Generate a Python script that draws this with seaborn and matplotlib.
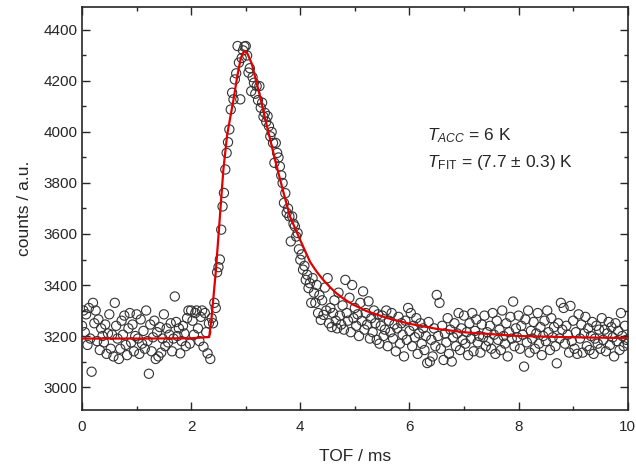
import numpy as np
import pandas as pd
import seaborn as sns
import matplotlib
matplotlib.use("Agg")
import matplotlib.pyplot as plt
from matplotlib.ticker import MultipleLocator

# time-of-flight grid step (ms), counts per bin
tof_step = 0.025
counts = [
    3240, 3300, 3215, 3285, 3165, 3310, 3190, 3060, 3330, 3250, 3300, 3180, 3265, 3145, 3230, 3200, 3175, 3245, 3130, 3210,
    3285, 3150, 3205, 3120, 3330, 3240, 3190, 3110, 3150, 3260, 3205, 3280, 3165, 3125, 3230, 3290, 3175, 3245, 3140, 3200,
    3285, 3190, 3130, 3265, 3170, 3220, 3150, 3300, 3180, 3052, 3245, 3140, 3195, 3260, 3110, 3215, 3120, 3235, 3135, 3190,
    3285, 3160, 3230, 3175, 3205, 3250, 3140, 3190, 3355, 3255, 3200, 3230, 3132, 3180, 3240, 3210, 3160, 3270, 3300, 3170,
    3300, 3260, 3205, 3290, 3300, 3230, 3180, 3275, 3300, 3158, 3290, 3215, 3132, 3250, 3110, 3270, 3250, 3330, 3310, 3450,
    3470, 3500, 3617, 3708, 3761, 3853, 3918, 3960, 4010, 4088, 4154, 4128, 4206, 4230, 4337, 4272, 4128, 4290, 4320, 4335,
    4337, 4300, 4233, 4250, 4160, 4215, 4193, 4150, 4180, 4125, 4180, 4095, 4115, 4060, 4075, 4040, 4062, 4023, 3983, 4000,
    3957, 3879, 3957, 3918, 3900, 3865, 3830, 3800, 3722, 3760, 3683, 3700, 3669, 3571, 3669, 3640, 3630, 3590, 3604, 3540,
    3499, 3520, 3460, 3475, 3420, 3440, 3388, 3407, 3330, 3427, 3370, 3330, 3400, 3290, 3360, 3263, 3340, 3283, 3390, 3300,
    3427, 3250, 3310, 3235, 3290, 3340, 3260, 3230, 3370, 3280, 3245, 3320, 3225, 3420, 3290, 3260, 3350, 3215, 3400, 3270,
    3310, 3240, 3285, 3200, 3330, 3260, 3375, 3225, 3290, 3245, 3336, 3190, 3270, 3215, 3300, 3250, 3185, 3285, 3170, 3240,
    3280, 3200, 3225, 3300, 3160, 3260, 3215, 3290, 3190, 3245, 3140, 3230, 3275, 3170, 3250, 3205, 3120, 3260, 3185, 3310,
    3220, 3290, 3160, 3240, 3195, 3270, 3130, 3210, 3250, 3170, 3230, 3145, 3200, 3094, 3255, 3100, 3185, 3120, 3230, 3160,
    3361, 3200, 3330, 3150, 3240, 3106, 3210, 3175, 3270, 3130, 3225, 3100, 3195, 3250, 3160, 3210, 3290, 3145, 3230, 3185,
    3280, 3170, 3215, 3125, 3250, 3190, 3290, 3140, 3220, 3265, 3175, 3200, 3135, 3245, 3195, 3280, 3160, 3215, 3180, 3240,
    3150, 3290, 3205, 3130, 3260, 3185, 3225, 3145, 3300, 3200, 3170, 3250, 3120, 3215, 3275, 3190, 3335, 3160, 3230, 3195,
    3280, 3150, 3240, 3205, 3080, 3265, 3175, 3300, 3135, 3220, 3190, 3255, 3150, 3210, 3290, 3170, 3235, 3125, 3200, 3260,
    3180, 3300, 3215, 3145, 3270, 3195, 3235, 3160, 3093, 3250, 3190, 3330, 3225, 3310, 3170, 3240, 3205, 3135, 3318, 3180,
    3260, 3150, 3215, 3130, 3285, 3190, 3245, 3135, 3210, 3275, 3160, 3230, 3145, 3200, 3255, 3130, 3190, 3240, 3170, 3225,
    3150, 3270, 3185, 3225, 3140, 3210, 3255, 3165, 3235, 3195, 3120, 3250, 3180, 3220, 3145, 3290, 3200, 3160, 3240, 3185,
    3170,
]

# fit curve
fit_tof = [0.0, 1.0, 2.0, 2.33, 2.37, 2.45, 2.52, 2.59, 2.66, 2.77, 2.85, 2.91, 2.97, 3.03,
           3.11, 3.26, 3.38, 3.55, 3.68, 3.81, 3.99, 4.18, 4.30, 4.42, 4.55, 4.66, 4.80,
           4.95, 5.21, 5.6, 6.0, 6.5, 7.04, 8.0, 9.0, 10.0]
fit_counts = [3190, 3190, 3191, 3196, 3263, 3450, 3650, 3853, 3990, 4120, 4225, 4290, 4318, 4308,
              4268, 4141, 4030, 3880, 3772, 3669, 3580, 3490, 3452, 3420, 3390, 3368, 3345,
              3325, 3298, 3270, 3248, 3228, 3214, 3200, 3195, 3192]

df = pd.DataFrame({"tof": np.arange(len(counts)) * tof_step, "counts": counts})
fit = pd.DataFrame({"tof": fit_tof, "counts": fit_counts})

sns.set_style("ticks")
plt.rcParams["font.family"] = ["Liberation Sans", "DejaVu Sans"]
plt.rcParams["mathtext.fontset"] = "custom"
plt.rcParams["mathtext.rm"] = "Liberation Sans"
plt.rcParams["mathtext.it"] = "Liberation Sans:italic"

fig = plt.figure(figsize=(6.36, 4.68), dpi=100)
ax = fig.add_axes([0.129, 0.124, 0.858, 0.861])

sns.scatterplot(data=df, x="tof", y="counts", ax=ax, marker="o", s=44,
                facecolor="none", edgecolor="#333333", linewidth=0.8, zorder=2)
sns.lineplot(data=fit, x="tof", y="counts", ax=ax, color="#e00000", linewidth=1.6,
             sort=False, zorder=3)

ax.set_xlim(0, 10)
ax.set_ylim(2910, 4490)
ax.xaxis.set_major_locator(MultipleLocator(2))
ax.xaxis.set_minor_locator(MultipleLocator(1))
ax.yaxis.set_major_locator(MultipleLocator(200))
ax.yaxis.set_minor_locator(MultipleLocator(100))
ax.tick_params(which="both", direction="in", top=True, right=True, labelsize=11, width=1)
ax.tick_params(which="major", length=6)
ax.tick_params(which="minor", length=3)
ax.tick_params(axis="x", pad=7)
for sp in ax.spines.values():
    sp.set_linewidth(1.2)

ax.set_xlabel("TOF / ms", fontsize=12.5, labelpad=11)
ax.set_ylabel("counts / a.u.", fontsize=12.5, labelpad=8)

ax.text(6.33, 3985, r"$\mathit{T}_{\mathit{ACC}}$ = 6 K", fontsize=12.5, va="center")
ax.text(6.33, 3880, r"$\mathit{T}_{\mathrm{FIT}}$ = (7.7 ± 0.3) K", fontsize=12.5, va="center")

plt.savefig("out.png", dpi=100)
plt.close()
